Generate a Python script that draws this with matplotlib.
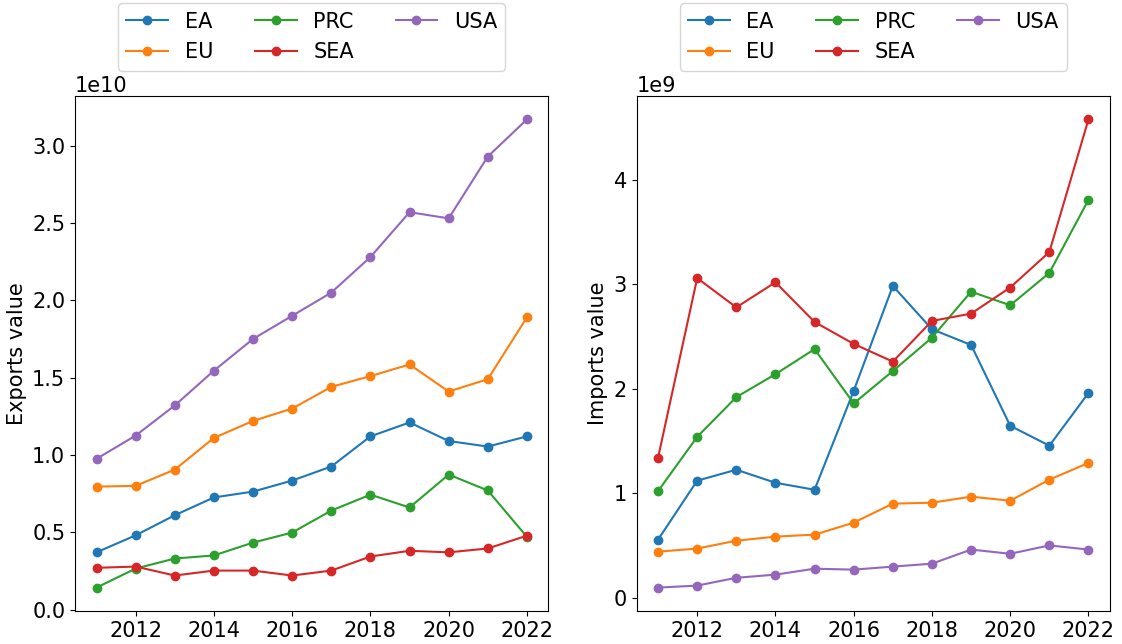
import matplotlib
matplotlib.use("Agg")
import matplotlib.pyplot as plt

years = [2011, 2012, 2013, 2014, 2015, 2016, 2017, 2018, 2019, 2020, 2021, 2022]
regions = ["EA", "EU", "PRC", "SEA", "USA"]

# Export values (USD)
exports_ea = [0.37e10, 0.48e10, 0.61e10, 0.725e10, 0.763e10, 0.834e10, 0.925e10, 1.12e10, 1.21e10, 1.09e10, 1.054e10, 1.12e10]
exports_eu = [0.795e10, 0.80e10, 0.905e10, 1.11e10, 1.22e10, 1.30e10, 1.44e10, 1.51e10, 1.585e10, 1.41e10, 1.49e10, 1.89e10]
exports_prc = [0.142e10, 0.265e10, 0.33e10, 0.35e10, 0.433e10, 0.498e10, 0.64e10, 0.743e10, 0.66e10, 0.873e10, 0.77e10, 0.47e10]
exports_sea = [0.27e10, 0.278e10, 0.22e10, 0.252e10, 0.252e10, 0.22e10, 0.252e10, 0.343e10, 0.38e10, 0.37e10, 0.395e10, 0.478e10]
exports_usa = [0.975e10, 1.125e10, 1.32e10, 1.545e10, 1.75e10, 1.90e10, 2.05e10, 2.28e10, 2.57e10, 2.53e10, 2.93e10, 3.17e10]

# Import values (USD)
imports_ea = [0.555e9, 1.12e9, 1.225e9, 1.10e9, 1.033e9, 1.98e9, 2.985e9, 2.57e9, 2.42e9, 1.646e9, 1.455e9, 1.96e9]
imports_eu = [0.44e9, 0.47e9, 0.545e9, 0.584e9, 0.603e9, 0.718e9, 0.90e9, 0.909e9, 0.967e9, 0.928e9, 1.13e9, 1.29e9]
imports_prc = [1.02e9, 1.54e9, 1.92e9, 2.14e9, 2.38e9, 1.86e9, 2.17e9, 2.49e9, 2.93e9, 2.80e9, 3.11e9, 3.81e9]
imports_sea = [1.34e9, 3.06e9, 2.78e9, 3.02e9, 2.64e9, 2.43e9, 2.26e9, 2.65e9, 2.72e9, 2.97e9, 3.31e9, 4.58e9]
imports_usa = [0.096e9, 0.115e9, 0.19e9, 0.22e9, 0.277e9, 0.268e9, 0.297e9, 0.325e9, 0.46e9, 0.42e9, 0.50e9, 0.46e9]

exports = [exports_ea, exports_eu, exports_prc, exports_sea, exports_usa]
imports = [imports_ea, imports_eu, imports_prc, imports_sea, imports_usa]

plt.rcParams["font.size"] = 15

fig, (ax1, ax2) = plt.subplots(1, 2, figsize=(11.22, 6.44), dpi=100)
fig.subplots_adjust(left=75 / 1122, right=1110 / 1122, bottom=1 - 611 / 644,
                    top=1 - 96 / 644, wspace=0.186)

for ax, data, label in [(ax1, exports, "Exports value"), (ax2, imports, "Imports value")]:
    for name, vals in zip(regions, data):
        ax.plot(years, vals, marker="o", label=name)
    ax.set_ylabel(label)
    ax.set_xticks([2012, 2014, 2016, 2018, 2020, 2022])
    ax.legend(loc="upper center", bbox_to_anchor=(0.5, 1.2), ncol=3)

fig.savefig("out.png", dpi=100)
